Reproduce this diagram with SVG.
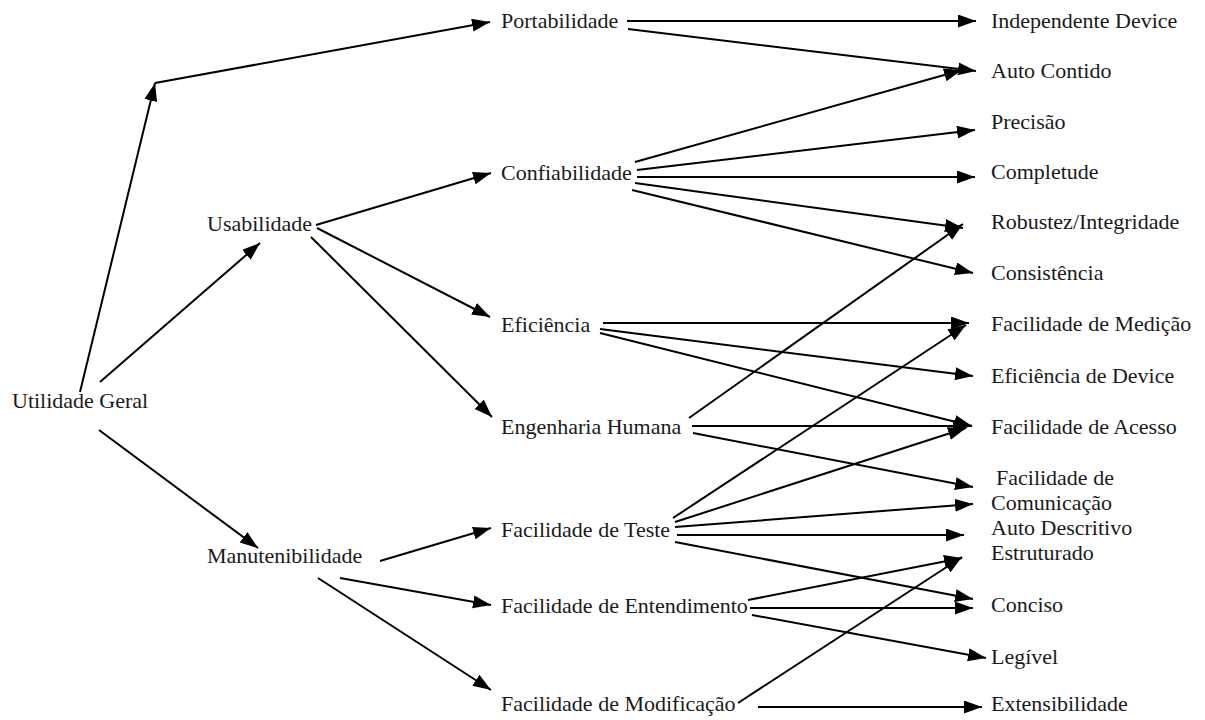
<svg xmlns="http://www.w3.org/2000/svg" width="1205" height="720" viewBox="0 0 1205 720">
<style>
text{font-family:"Liberation Serif","Times New Roman","DejaVu Serif",serif;font-size:22px;fill:#1a1a1a}
.c line{stroke:#000;stroke-width:2;marker-end:url(#ah)}
</style>
<defs>
<marker id="ah" markerUnits="userSpaceOnUse" markerWidth="20" markerHeight="14" refX="18" refY="6.5" orient="auto">
<path d="M0,0 L18,6.5 L0,13 z" fill="#000"/>
</marker>
</defs>
<rect width="1205" height="720" fill="#fff"/>
<g class="c" id="connectors">
<line x1="80" y1="392" x2="155" y2="83"/>
<line x1="155" y1="83" x2="490" y2="22"/>
<line x1="100" y1="382" x2="260" y2="243"/>
<line x1="99" y1="430" x2="258" y2="548"/>
<line x1="316" y1="225" x2="491" y2="173"/>
<line x1="317" y1="228" x2="490" y2="317"/>
<line x1="311" y1="237" x2="492" y2="417"/>
<line x1="380" y1="561" x2="491" y2="528"/>
<line x1="340" y1="578" x2="491" y2="605"/>
<line x1="318" y1="578" x2="491" y2="690"/>
<line x1="627" y1="21" x2="976" y2="21"/>
<line x1="628" y1="29" x2="976" y2="71"/>
<line x1="635" y1="162" x2="962" y2="70"/>
<line x1="637" y1="170" x2="975" y2="130"/>
<line x1="637" y1="177" x2="975" y2="177"/>
<line x1="635" y1="183" x2="963" y2="228"/>
<line x1="632" y1="190" x2="973" y2="273"/>
<line x1="689" y1="418" x2="963" y2="224"/>
<line x1="603" y1="323" x2="969" y2="323"/>
<line x1="600" y1="329" x2="973" y2="376"/>
<line x1="600" y1="333" x2="972" y2="426"/>
<line x1="692" y1="426" x2="971" y2="426"/>
<line x1="693" y1="433" x2="973" y2="487"/>
<line x1="673" y1="518" x2="966" y2="325"/>
<line x1="675" y1="522" x2="966" y2="428"/>
<line x1="675" y1="527" x2="973" y2="504"/>
<line x1="677" y1="535" x2="964" y2="535"/>
<line x1="675" y1="542" x2="973" y2="599"/>
<line x1="748" y1="600" x2="962" y2="558"/>
<line x1="750" y1="608" x2="973" y2="608"/>
<line x1="752" y1="615" x2="986" y2="658"/>
<line x1="738" y1="703" x2="962" y2="557"/>
<line x1="758" y1="707" x2="982" y2="707"/>
</g>
<g id="n-utilidade-geral"><text x="12" y="408">Utilidade Geral</text></g>
<g id="n-usabilidade"><text x="207" y="231">Usabilidade</text></g>
<g id="n-manutenibilidade"><text x="207" y="563">Manutenibilidade</text></g>
<g id="n-portabilidade"><text x="501" y="28">Portabilidade</text></g>
<g id="n-confiabilidade"><text x="501" y="180">Confiabilidade</text></g>
<g id="n-eficiencia"><text x="501" y="332">Eficiência</text></g>
<g id="n-engenharia-humana"><text x="501" y="434">Engenharia Humana</text></g>
<g id="n-facilidade-teste"><text x="501" y="537">Facilidade de Teste</text></g>
<g id="n-facilidade-entendimento"><text x="501" y="613">Facilidade de Entendimento</text></g>
<g id="n-facilidade-modificacao"><text x="501" y="711">Facilidade de Modificação</text></g>
<g id="n-independente-device"><text x="991" y="28">Independente Device</text></g>
<g id="n-auto-contido"><text x="991" y="78">Auto Contido</text></g>
<g id="n-precisao"><text x="991" y="129">Precisão</text></g>
<g id="n-completude"><text x="991" y="179">Completude</text></g>
<g id="n-robustez"><text x="991" y="229">Robustez/Integridade</text></g>
<g id="n-consistencia"><text x="991" y="280">Consistência</text></g>
<g id="n-facilidade-medicao"><text x="991" y="331">Facilidade de Medição</text></g>
<g id="n-eficiencia-device"><text x="991" y="383">Eficiência de Device</text></g>
<g id="n-facilidade-acesso"><text x="991" y="434">Facilidade de Acesso</text></g>
<g id="n-facilidade-comunicacao"><text x="996" y="485">Facilidade de</text><text x="991" y="510">Comunicação</text></g>
<g id="n-auto-descritivo"><text x="991" y="535">Auto Descritivo</text></g>
<g id="n-estruturado"><text x="991" y="560">Estruturado</text></g>
<g id="n-conciso"><text x="991" y="612">Conciso</text></g>
<g id="n-legivel"><text x="991" y="664">Legível</text></g>
<g id="n-extensibilidade"><text x="991" y="711">Extensibilidade</text></g>
</svg>
